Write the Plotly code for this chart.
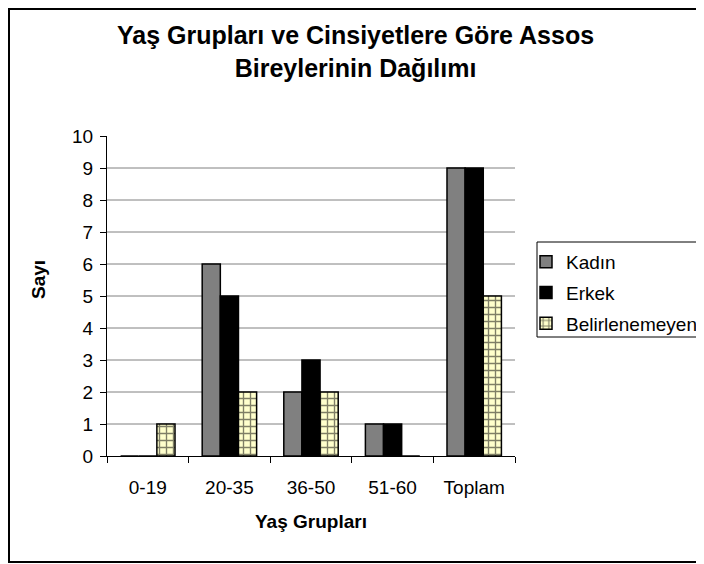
import plotly.graph_objects as go

# values
categories = ["0-19", "20-35", "36-50", "51-60", "Toplam"]
kadin = [0, 6, 2, 1, 9]
erkek = [0, 5, 3, 1, 9]
belirlenemeyen = [1, 2, 2, 0, 5]
y_ticks = list(range(0, 11))
grid_values = list(range(1, 10))

FONT = "Arial, Liberation Sans, sans-serif"

# the page body adds an 8px margin, so the figure is drawn 8px smaller
OFF = 8
W, H = 704 - OFF, 564 - OFF
# plot area in page pixels: x 107..515, y 136..456
L, R, T, B = 107, 515, 136, 456
PW, PH = R - L, B - T


def px_x(x):
    return (x - L) / PW


def px_y(y):
    return (B - y) / PH


fig = go.Figure()
fig.add_bar(
    x=categories, y=kadin, name="Kadın", legendgroup="a",
    marker=dict(color="#808080", line=dict(color="black", width=1.5)),
)
fig.add_bar(
    x=categories, y=erkek, name="Erkek", legendgroup="b",
    marker=dict(color="black", line=dict(color="black", width=1.5)),
)
fig.add_bar(
    x=categories, y=belirlenemeyen, name="Belirlenemeyen", legendgroup="c",
    marker=dict(
        color="#FFFFCC",
        line=dict(color="black", width=1.5),
        pattern=dict(shape="+", fgcolor="black", bgcolor="#FFFFCC",
                     size=7, solidity=0.35),
    ),
)

shapes = [
    # outer chart border
    dict(type="rect", xref="paper", yref="paper",
         x0=px_x(9), x1=px_x(702), y0=px_y(562), y1=px_y(9),
         line=dict(color="black", width=2), layer="below"),
    # legend box
    dict(type="rect", xref="paper", yref="paper",
         x0=px_x(537), x1=px_x(702), y0=px_y(337), y1=px_y(242),
         line=dict(color="black", width=1), layer="below"),
]
for g in grid_values:
    shapes.append(dict(type="line", xref="paper", yref="y", x0=0, x1=1, y0=g, y1=g,
                       line=dict(color="#808080", width=1), layer="below"))

fig.update_layout(
    width=W, height=H,
    margin=dict(l=L - OFF, r=W - (R - OFF), t=T - OFF, b=H - (B - OFF)),
    paper_bgcolor="white", plot_bgcolor="white",
    font=dict(family=FONT, size=19, color="black"),
    barmode="group", bargap=0.333, bargroupgap=0,
    xaxis=dict(
        showline=True, linecolor="black", linewidth=1,
        ticks="outside", tickson="boundaries", ticklen=6, tickcolor="black",
        showgrid=False, tickfont=dict(size=19), ticklabelstandoff=14,
    ),
    yaxis=dict(
        range=[0, 10], tickvals=y_ticks, showgrid=False, zeroline=False,
        showline=True, linecolor="black", linewidth=1,
        ticks="outside", ticklen=6, tickcolor="black", tickfont=dict(size=19),
        ticklabelstandoff=3,
    ),
    legend=dict(
        xref="container", yref="container",
        x=(526 - OFF) / W, y=1 - (243 - OFF) / H, xanchor="left", yanchor="top",
        bgcolor="rgba(0,0,0,0)", borderwidth=0,
        font=dict(size=19), tracegroupgap=3,
    ),
    shapes=shapes,
    annotations=[
        dict(text="<b>Yaş Grupları ve Cinsiyetlere Göre Assos<br>Bireylerinin Dağılımı</b>",
             xref="paper", yref="paper", x=px_x(355), y=px_y(51.5),
             xanchor="center", yanchor="middle", showarrow=False,
             font=dict(size=25)),
        dict(text="<b>Yaş Grupları</b>", xref="paper", yref="paper",
             x=0.5, y=px_y(521), xanchor="center", yanchor="middle",
             showarrow=False, font=dict(size=19)),
        dict(text="<b>Sayı</b>", xref="paper", yref="paper",
             x=px_x(38), y=px_y(280), xanchor="center", yanchor="middle",
             showarrow=False, textangle=-90, font=dict(size=19)),
    ],
)

fig.write_html("out.html")
